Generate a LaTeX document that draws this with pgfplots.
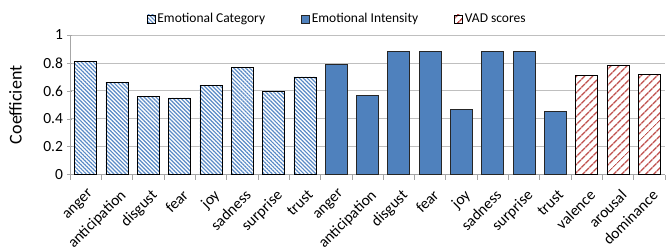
\documentclass[border=0pt]{standalone}
\usepackage{pgfplots}
\pgfplotsset{compat=1.18}
\usepackage{fontspec}
\setmainfont{Carlito}
\usetikzlibrary{patterns.meta}
\definecolor{intblue}{HTML}{4F81BD}
\definecolor{catblue}{HTML}{5A8AC6}
\definecolor{vadred}{HTML}{C0504D}
\definecolor{gridgray}{HTML}{BFBFBF}
\definecolor{axgray}{HTML}{A6A6A6}
\begin{document}
\begin{tikzpicture}
\begin{axis}[
  scale only axis,
  width=595bp, height=139.7bp,
  xmin=-0.5, xmax=18.5,
  ymin=0, ymax=1,
  ytick={0,0.2,0.4,0.6,0.8,1},
  yticklabels={0,0.2,0.4,0.6,0.8,1},
  xtick={0,...,18},
  xticklabels={anger,anticipation,disgust,fear,joy,sadness,surprise,trust,anger,anticipation,disgust,fear,joy,sadness,surprise,trust,valence,arousal,dominance},
  minor xtick={-0.5,0.5,...,18.5},
  major x tick style={draw=none},
  minor x tick style={draw=axgray, line width=0.6bp},
  minor tick length=5bp,
  y tick style={draw=axgray, line width=0.6bp},
  major tick length=5bp,
  tick align=outside,
  axis lines=left,
  axis line style={-, draw=axgray, line width=0.8bp},
  ymajorgrids,
  grid style={draw=gridgray, line width=0.8bp},
  /pgf/number format/assume math mode=true,
  yticklabel style={font=\fontsize{15.5bp}{17bp}\selectfont, xshift=-1bp},
  xticklabel style={font=\fontsize{15.5bp}{17bp}\selectfont, xshift=2bp, yshift=-8bp, rotate=45, anchor=north east, inner sep=0.5bp},
  ylabel={Coefficient},
  ylabel style={font=\fontsize{18bp}{20bp}\selectfont, at={(axis description cs:-0.075,0.5)}, anchor=south},
  ybar, bar width=22bp, bar shift=0pt,
  legend columns=3,
  legend style={draw=none, fill=none, at={(axis description cs:0.449,1)}, anchor=center, yshift=16bp, font=\fontsize{13.5bp}{15bp}\selectfont, /tikz/every even column/.append style={column sep=34bp}},
  legend image code/.code={\draw[#1] (0bp,-4bp) rectangle (8bp,4bp);},
  clip=false,
]
\addplot[draw=black, line width=0.7bp, fill=white, postaction={pattern={Lines[angle=-45,distance=2.8bp,line width=1.2bp]}, pattern color=catblue}]
 coordinates {(0,0.81) (1,0.66) (2,0.56) (3,0.55) (4,0.64) (5,0.77) (6,0.60) (7,0.70)};
\addlegendentry{Emotional Category}
\addplot[draw=black!85, line width=0.7bp, fill=intblue]
 coordinates {(8,0.79) (9,0.57) (10,0.88) (11,0.88) (12,0.47) (13,0.88) (14,0.88) (15,0.45)};
\addlegendentry{Emotional Intensity}
\addplot[draw=black, line width=0.7bp, fill=white, postaction={pattern={Lines[angle=45,distance=6bp,line width=1.8bp]}, pattern color=vadred}]
 coordinates {(16,0.71) (17,0.78) (18,0.72)};
\addlegendentry{VAD scores}
\end{axis}
\pgfresetboundingbox
\path (-70bp,-75.3bp) rectangle (598bp,174.7bp);
\end{tikzpicture}
\end{document}
